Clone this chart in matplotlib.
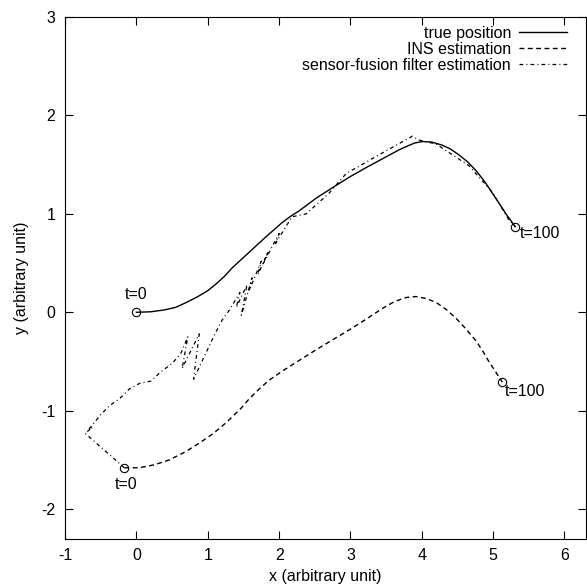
import matplotlib
matplotlib.use("Agg")
import matplotlib.pyplot as plt

plt.rcParams['font.family'] = ['Liberation Sans', 'DejaVu Sans']
plt.rcParams['font.size'] = 11.5
plt.rcParams['axes.unicode_minus'] = False

# true position
true_x = [0.0, 0.2, 0.4, 0.55, 0.7, 0.85, 1.0, 1.12, 1.24, 1.34, 1.46, 1.58, 1.7, 1.82,
          1.93, 2.04, 2.16, 2.28, 2.52, 2.8, 3.0, 3.22, 3.45, 3.68, 3.8, 3.9, 4.01, 4.14,
          4.28, 4.4, 4.52, 4.64, 4.76, 4.88, 4.99, 5.1, 5.18, 5.31]
true_y = [0.0, 0.005, 0.025, 0.05, 0.1, 0.155, 0.22, 0.29, 0.37, 0.45, 0.53, 0.61, 0.69,
          0.77, 0.84, 0.91, 0.975, 1.03, 1.16, 1.29, 1.38, 1.47, 1.56, 1.65, 1.69, 1.72,
          1.735, 1.73, 1.7, 1.66, 1.6, 1.53, 1.44, 1.33, 1.21, 1.09, 1.0, 0.87]

# INS estimation
ins_x = [-0.17, 0.04, 0.25, 0.46, 0.68, 0.88, 1.08, 1.26, 1.46, 1.58, 1.72, 1.86, 2.04,
         2.28, 2.52, 2.75, 2.98, 3.22, 3.45, 3.62, 3.78, 3.92, 4.06, 4.2, 4.34, 4.48,
         4.62, 4.76, 4.86, 4.94, 5.04, 5.13]
ins_y = [-1.58, -1.58, -1.55, -1.5, -1.42, -1.33, -1.23, -1.12, -0.98, -0.88, -0.78, -0.69,
         -0.6, -0.49, -0.38, -0.28, -0.18, -0.07, 0.04, 0.11, 0.15, 0.16, 0.14, 0.1, 0.03,
         -0.06, -0.17, -0.29, -0.4, -0.5, -0.61, -0.71]

# sensor-fusion filter estimation
fus_x = [-0.17, -0.72, -0.62, -0.67, -0.5, -0.38, -0.24, -0.1, 0.05, 0.2, 0.35, 0.5, 0.62,
         0.72, 0.64, 0.88, 0.8, 0.95, 1.08, 1.2, 1.3, 1.45, 1.4, 1.55, 1.47, 1.62, 1.58,
         1.75, 1.7, 1.85, 1.78, 2.0, 1.95, 2.18, 2.38, 2.7, 2.94, 3.4, 3.87, 3.96, 4.2,
         4.66, 4.99, 5.22, 5.31]
fus_y = [-1.58, -1.23, -1.17, -1.19, -1.04, -0.95, -0.88, -0.78, -0.72, -0.7, -0.6, -0.52,
         -0.42, -0.25, -0.57, -0.22, -0.68, -0.45, -0.25, -0.08, 0.02, 0.2, 0.05, 0.28,
         -0.03, 0.35, 0.22, 0.52, 0.38, 0.62, 0.5, 0.8, 0.7, 0.97, 1.0, 1.21, 1.41, 1.6,
         1.79, 1.75, 1.71, 1.49, 1.22, 0.94, 0.87]

fig = plt.figure(figsize=(5.87, 5.88), dpi=100)
ax = fig.add_axes([0.111, 0.084, 0.887, 0.887])

ax.plot(true_x, true_y, color='black', lw=1.0, label='true position')
ax.plot(ins_x, ins_y, color='black', lw=1.0, dashes=(3.5, 2.5), label='INS estimation')
ax.plot(fus_x, fus_y, color='black', lw=0.9, dashes=(3, 2.5, 0.8, 2.5),
        label='sensor-fusion filter estimation')

# start / end markers
ax.plot([true_x[0], true_x[-1], ins_x[0], ins_x[-1]],
        [true_y[0], true_y[-1], ins_y[0], ins_y[-1]],
        'o', ms=6, mfc='none', mec='black', mew=0.8)

ax.text(0.0, 0.18, 't=0', ha='center', va='center')
ax.text(-0.15, -1.75, 't=0', ha='center', va='center')
ax.text(5.37, 0.8, 't=100', ha='left', va='center')
ax.text(5.17, -0.81, 't=100', ha='left', va='center')

ax.set_xlim(-1, 6.3)
ax.set_ylim(-2.3, 3)
ax.set_xticks(range(-1, 7))
ax.set_yticks(range(-2, 4))
ax.tick_params(direction='in', length=5.5, pad=7, top=True, right=True)
ax.set_xlabel('x (arbitrary unit)', labelpad=4)
ax.set_ylabel('y (arbitrary unit)', labelpad=9)

ax.legend(loc='upper right', bbox_to_anchor=(0.976, 0.995), borderaxespad=0,
          frameon=False, markerfirst=False, handlelength=3.0, handletextpad=0.5,
          labelspacing=0.05)

fig.savefig('out.png', dpi=100)
